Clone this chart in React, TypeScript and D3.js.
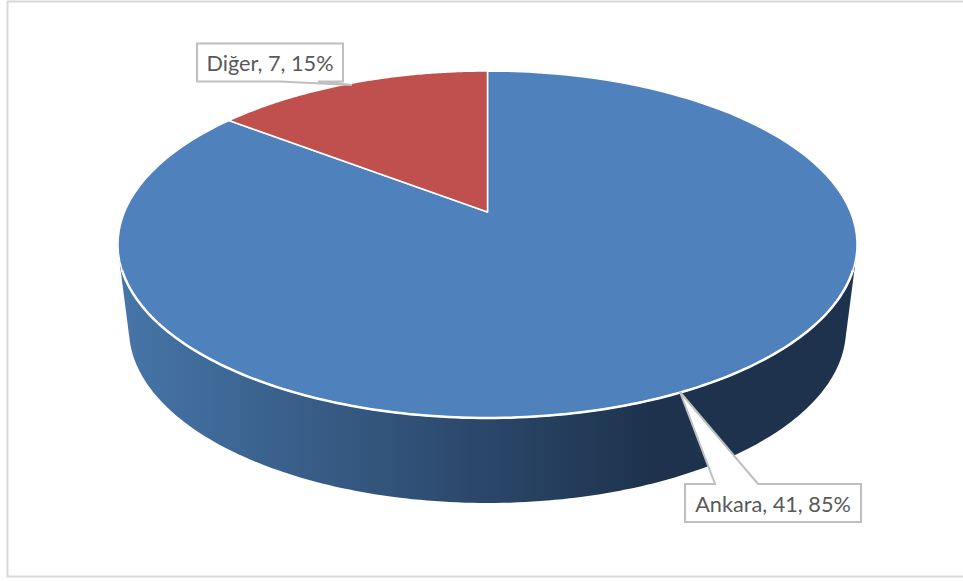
import { useEffect, useRef } from "react"
import * as d3 from "d3"

const categories = ["Ankara", "Diğer"]
const values = [41, 7]
const percents = [85, 15]
const colors = ["#4f81bd", "#c0504d"]

const width = 963
const height = 581

// perspective of the pie top, a circle seen from above
const cx = 487.5
const cy = 212
const radiusX = 363
const radiusY = 167.4
const tilt = -0.1873

// bottom rim of the wall
const rimScale = 0.97
const rimDrop = 85

function project(angle: number, scale = 1, drop = 0): [number, number] {
  const u = Math.sin(angle)
  const v = -Math.cos(angle)
  const d = 1 + tilt * v
  return [cx + (scale * radiusX * u) / d, cy + drop + (radiusY * v) / d]
}

export default function App() {
  const svgRef = useRef<SVGSVGElement>(null)

  useEffect(() => {
    if (!svgRef.current) return

    const svg = d3.select(svgRef.current)
    svg.selectAll("*").remove() // clear previous renders

    // chart frame
    svg.append("rect")
      .attr("x", 7.5)
      .attr("y", 1.5)
      .attr("width", width + 10)
      .attr("height", 575)
      .attr("fill", "#fff")
      .attr("stroke", "#d9d9d9")
      .attr("stroke-width", 2)

    const gradient = svg.append("defs").append("linearGradient")
      .attr("id", "wall")
      .attr("gradientUnits", "userSpaceOnUse")
      .attr("x1", 120).attr("x2", 650)
      .attr("y1", 0).attr("y2", 0)
    gradient.append("stop").attr("offset", 0).attr("stop-color", "#4675a8")
    gradient.append("stop").attr("offset", 1).attr("stop-color", "#1e324d")

    // wall = hull of top and bottom rims
    const turns = d3.range(0, 360, 1).map(d => (d * Math.PI) / 180)
    const hull = d3.polygonHull([
      ...turns.map(a => project(a)),
      ...turns.map(a => project(a, rimScale, rimDrop)),
    ])!
    const line = d3.line()
    svg.append("path")
      .attr("d", line(hull) + "Z")
      .attr("fill", "url(#wall)")

    // top slices
    const pie = d3.pie<number>().sort(null)
    const slices = pie(values)
    svg.selectAll("path.slice").data(slices)
      .enter()
      .append("path")
      .attr("class", "slice")
      .attr("d", d => {
        const steps = d3.range(0, 121).map(i => d.startAngle + ((d.endAngle - d.startAngle) * i) / 120)
        return line([[cx, cy], ...steps.map(a => project(a))]) + "Z"
      })
      .attr("fill", (_, i) => colors[i])
      .attr("stroke", "#fff")
      .attr("stroke-width", 1.5)
      .attr("stroke-linejoin", "round")

    // heavier white edge where the top meets the wall
    const front = d3.range(109, 252, 1).map(d => project((d * Math.PI) / 180))
    svg.append("path")
      .attr("d", line(front))
      .attr("fill", "none")
      .attr("stroke", "#fff")
      .attr("stroke-width", 2.5)

    // callouts
    const boxes = [
      { x: 685, y: 484, w: 176, h: 38, tip: [680, 392], base: [715, 758] },
      { x: 197, y: 43.5, w: 146, h: 38, tip: [352, 85], base: [280, 318] },
    ]
    boxes.forEach((b, i) => {
      const top = b.tip[1] < b.y
      const edge = top ? b.y : b.y + b.h
      const outline = top
        ? [[b.x, b.y], [b.base[0], b.y], b.tip, [b.base[1], b.y], [b.x + b.w, b.y], [b.x + b.w, b.y + b.h], [b.x, b.y + b.h]]
        : [[b.x, b.y], [b.x + b.w, b.y], [b.x + b.w, b.y + b.h], [b.base[1], edge], b.tip, [b.base[0], edge], [b.x, b.y + b.h]]
      svg.append("path")
        .attr("d", line(outline as [number, number][]) + "Z")
        .attr("fill", "#fff")
        .attr("stroke", "#bfbfbf")
        .attr("stroke-width", 2)
      svg.append("text")
        .attr("x", b.x + b.w / 2)
        .attr("y", b.y + b.h / 2 + 8.5)
        .attr("text-anchor", "middle")
        .attr("font-family", "Lato, 'Open Sans', sans-serif")
        .attr("font-size", 21.7)
        .attr("fill", "#595959")
        .text(`${categories[i]}, ${values[i]}, ${percents[i]}%`)
    })
  }, [])

  return (
    <svg
      ref={svgRef}
      width={width}
      height={height}
      viewBox={`0 0 ${width} ${height}`}
      style={{ position: "absolute", left: 0, top: 0, background: "#fff" }}
      xmlns="http://www.w3.org/2000/svg"
    ></svg>
  )
}
